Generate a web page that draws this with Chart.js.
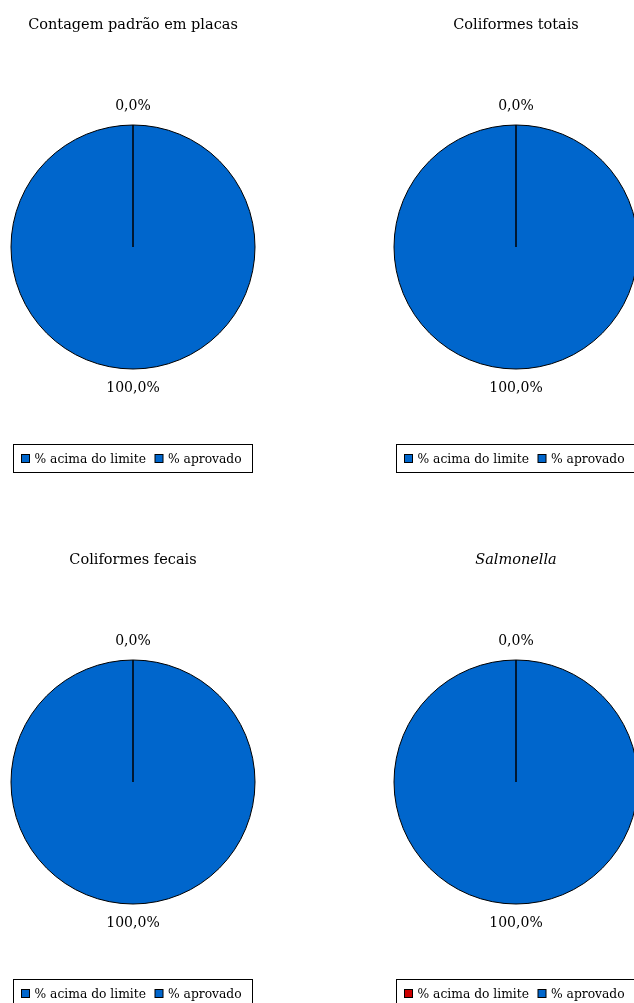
<!DOCTYPE html>
<html>
<head>
<meta charset="utf-8">
<script src="https://cdn.jsdelivr.net/npm/chart.js@4.4.1/dist/chart.umd.min.js"></script>
<style>
body { margin: 0; background: #fff; overflow: hidden; width: 634px; height: 1003px; position: relative; }
canvas { position: absolute; }
</style>
</head>
<body>
<canvas id="grafico1" width="266" height="501" style="left:0;top:0"></canvas>
<canvas id="grafico2" width="266" height="501" style="left:383px;top:0"></canvas>
<canvas id="grafico3" width="266" height="501" style="left:0;top:535px"></canvas>
<canvas id="grafico4" width="266" height="501" style="left:383px;top:535px"></canvas>
<script>
const legendas = ['% acima do limite', '% aprovado'];
const titulos = ['Contagem padrão em placas', 'Coliformes totais', 'Coliformes fecais', 'Salmonella'];
const tituloItalico = [false, false, false, true];
const acimaLimite = [0, 0, 0, 0];
const aprovado = [100, 100, 100, 100];
const corAcima = ['#0066CC', '#0066CC', '#0066CC', '#CC0000'];
const corAprovado = '#0066CC';

const FONTE = '"DejaVu Serif", serif';

const rotulosPlugin = {
	id: 'rotulos',
	afterDraw(chart, args, opts) {
		const ctx = chart.ctx;
		const meta = chart.getDatasetMeta(0);
		const ds = chart.data.datasets[0];
		const total = ds.data.reduce((a, b) => a + b, 0);
		const cx = chart.width / 2;

		ctx.save();
		ctx.fillStyle = '#000';
		ctx.textAlign = 'center';
		ctx.textBaseline = 'middle';

		// titulo
		ctx.font = (opts.italico ? 'italic ' : '') + '14.5px ' + FONTE;
		ctx.fillText(opts.titulo, cx, 25);

		// rotulos das fatias
		ctx.font = '14px ' + FONTE;
		meta.data.forEach(function(arc, i) {
			const p = arc.getProps(['x', 'y', 'startAngle', 'endAngle', 'outerRadius'], true);
			const meio = (p.startAngle + p.endAngle) / 2;
			const r = p.outerRadius + 19;
			const txt = (ds.data[i] / total * 100).toFixed(1).replace('.', ',') + '%';
			ctx.fillText(txt, p.x + Math.cos(meio) * r, p.y + Math.sin(meio) * r);
		});

		// legenda com caixa
		ctx.font = '12.3px ' + FONTE;
		ctx.textAlign = 'left';
		const quad = 8, gap = 5, sep = 9, padE = 8, padD = 11;
		let largura = padE + padD;
		chart.data.labels.forEach(function(l, i) {
			largura += quad + gap + ctx.measureText(l).width + (i > 0 ? sep : 0);
		});
		largura = Math.round(largura);
		const x0 = Math.round(cx - largura / 2) - 0.5;
		const y0 = 444.5, alt = 28;
		ctx.strokeStyle = '#000';
		ctx.lineWidth = 1;
		ctx.strokeRect(x0, y0, largura, alt);
		let x = x0 + padE;
		const ym = y0 + alt / 2;
		chart.data.labels.forEach(function(l, i) {
			if (i > 0) x += sep;
			ctx.fillStyle = ds.backgroundColor[i];
			ctx.fillRect(x, ym - quad / 2, quad, quad);
			ctx.strokeRect(x, ym - quad / 2, quad, quad);
			x += quad + gap;
			ctx.fillStyle = '#000';
			ctx.fillText(l, x, ym + 1);
			x += ctx.measureText(l).width;
		});
		ctx.restore();
	}
};

function criarGrafico(id, i) {
	const ctx = document.getElementById(id).getContext('2d');
	new Chart(ctx, {
		type: 'pie',
		data: {
			labels: legendas,
			datasets: [{
				data: [acimaLimite[i], aprovado[i]],
				backgroundColor: [corAcima[i], corAprovado],
				borderColor: '#000',
				borderWidth: 1,
				hoverOffset: 0
			}]
		},
		options: {
			responsive: false,
			animation: false,
			events: [],
			radius: 122,
			layout: { padding: { top: 125, bottom: 132, left: 11, right: 11 } },
			plugins: {
				legend: { display: false },
				tooltip: { enabled: false },
				rotulos: { titulo: titulos[i], italico: tituloItalico[i] }
			}
		},
		plugins: [rotulosPlugin]
	});
}

criarGrafico('grafico1', 0);
criarGrafico('grafico2', 1);
criarGrafico('grafico3', 2);
criarGrafico('grafico4', 3);
</script>
</body>
</html>
